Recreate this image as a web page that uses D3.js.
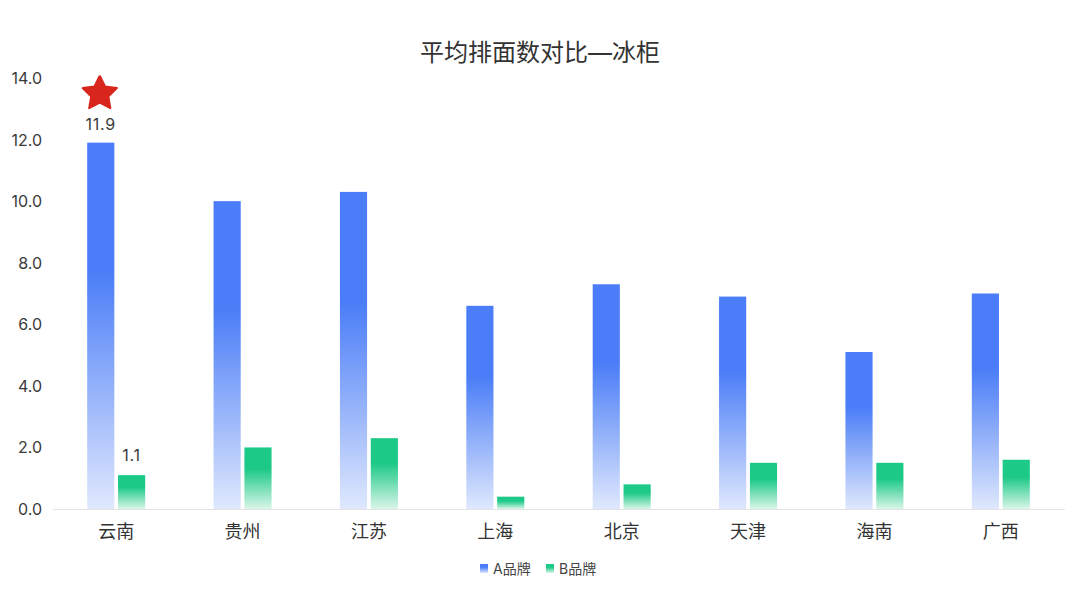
<!DOCTYPE html>
<html>
<head>
<meta charset="utf-8">
<script src="https://cdn.jsdelivr.net/npm/d3@7"></script>
<style>
  body { margin: 0; background: #fff; }
  text { font-family: "Inter", "Noto Sans CJK SC", "Noto Sans", sans-serif; }
</style>
</head>
<body>
<div id="chart"></div>
<script>
// data
const cities = ["云南", "贵州", "江苏", "上海", "北京", "天津", "海南", "广西"];
const brandA = [11.9, 10.0, 10.3, 6.6, 7.3, 6.9, 5.1, 7.0];
const brandB = [1.1, 2.0, 2.3, 0.4, 0.8, 1.5, 1.5, 1.6];
const seriesNames = ["A品牌", "B品牌"];
const yTicks = [0, 2, 4, 6, 8, 10, 12, 14];

const W = 1080, H = 593;
const plot = { left: 53, right: 1064, top: 78, bottom: 509 };

const svg = d3.select("#chart").append("svg")
  .attr("width", W)
  .attr("height", H);

// gradients
const defs = svg.append("defs");
function addGrad(id, c1, c2) {
  const g = defs.append("linearGradient")
    .attr("id", id)
    .attr("x1", 0).attr("y1", 0).attr("x2", 0).attr("y2", 1);
  g.append("stop").attr("offset", "0%").attr("stop-color", c1);
  g.append("stop").attr("offset", "35%").attr("stop-color", c1);
  g.append("stop").attr("offset", "100%").attr("stop-color", c2);
}
addGrad("gradA", "#4a7df7", "#dfe8fd");
addGrad("gradB", "#1cc987", "#daf6e9");

// scales
const x0 = d3.scaleBand().domain(cities).range([plot.left, plot.right]);
const bw = x0.bandwidth();
const x1 = d3.scaleBand().domain(seriesNames)
  .range([bw / 2 - 29, bw / 2 + 29]).paddingInner(0.12);
const y = d3.scaleLinear().domain([0, 14]).range([plot.bottom, plot.top]);

// title
svg.append("text")
  .attr("x", W / 2).attr("y", 61)
  .attr("text-anchor", "middle")
  .attr("font-size", 24)
  .attr("fill", "#333")
  .text("平均排面数对比—冰柜");

// y axis labels
svg.append("g").selectAll("text")
  .data(yTicks)
  .enter().append("text")
    .attr("x", 42).attr("y", d => y(d) + 6)
    .attr("text-anchor", "end")
    .attr("font-size", 16)
    .attr("fill", "#3a3a3a")
    .text(d => d.toFixed(1));

// baseline
svg.append("line")
  .attr("x1", plot.left).attr("x2", plot.right + 1)
  .attr("y1", plot.bottom + 0.5).attr("y2", plot.bottom + 0.5)
  .attr("stroke", "#e3e3e3");

// bars
const rows = cities.map((c, i) => ({ city: c, vals: [brandA[i], brandB[i]] }));
const groups = svg.append("g").selectAll("g")
  .data(rows)
  .enter().append("g")
    .attr("transform", d => "translate(" + x0(d.city) + ",0)");

groups.selectAll("rect")
  .data(d => d.vals.map((v, k) => ({ key: seriesNames[k], v: v })))
  .enter().append("rect")
    .attr("x", d => x1(d.key))
    .attr("width", x1.bandwidth())
    .attr("y", d => y(d.v))
    .attr("height", d => y(0) - y(d.v))
    .attr("fill", d => d.key === "A品牌" ? "url(#gradA)" : "url(#gradB)");

// x labels
svg.append("g").selectAll("text")
  .data(cities)
  .enter().append("text")
    .attr("x", d => x0(d) + bw / 2)
    .attr("y", 538)
    .attr("text-anchor", "middle")
    .attr("font-size", 18)
    .attr("fill", "#333")
    .text(d => d);

// value labels on first category
const first = cities[0];
svg.append("text")
  .attr("x", x0(first) + x1("A品牌") + x1.bandwidth() / 2)
  .attr("y", y(brandA[0]) - 13)
  .attr("text-anchor", "middle")
  .attr("font-size", 16)
  .attr("letter-spacing", 0.8)
  .attr("fill", "#3a3a3a")
  .text(brandA[0].toFixed(1));
svg.append("text")
  .attr("x", x0(first) + x1("B品牌") + x1.bandwidth() / 2)
  .attr("y", y(brandB[0]) - 14)
  .attr("text-anchor", "middle")
  .attr("font-size", 16)
  .attr("letter-spacing", 0.8)
  .attr("fill", "#3a3a3a")
  .text(brandB[0].toFixed(1));

// star above the top bar (fat five-point star)
const starPts = d3.range(10).map(i => [i * Math.PI / 5, i % 2 ? 9 : 18]);
starPts.push(starPts[0]);
svg.append("path")
  .attr("d", d3.lineRadial()(starPts))
  .attr("transform", "translate(" + (x0(first) + x1("A品牌") + x1.bandwidth() / 2 - 1) + "," + (y(brandA[0]) - 49) + ")")
  .attr("fill", "#d9261c")
  .attr("stroke", "#d9261c")
  .attr("stroke-width", 2)
  .attr("stroke-linejoin", "round");

// legend
const legend = svg.append("g").attr("transform", "translate(480,569)");
const legItems = [
  { name: seriesNames[0], grad: "url(#gradA)", x: 0 },
  { name: seriesNames[1], grad: "url(#gradB)", x: 66 }
];
legItems.forEach(it => {
  legend.append("rect")
    .attr("x", it.x).attr("y", -5)
    .attr("width", 8).attr("height", 9)
    .attr("fill", it.grad);
  legend.append("text")
    .attr("x", it.x + 13).attr("y", 5)
    .attr("font-size", 14)
    .attr("fill", "#444")
    .text(it.name);
});
</script>
</body>
</html>
